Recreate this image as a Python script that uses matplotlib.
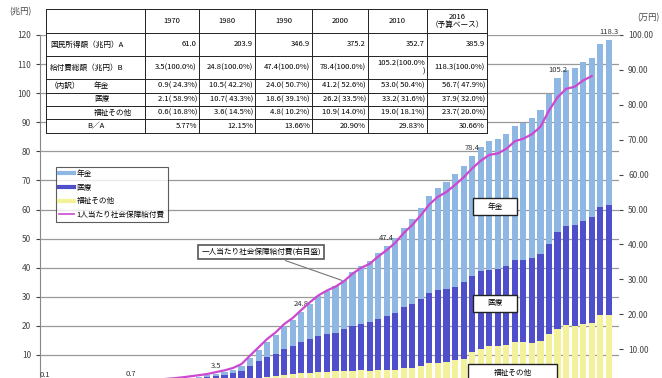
import matplotlib
matplotlib.use("Agg")
import matplotlib.pyplot as plt
from matplotlib.lines import Line2D
from matplotlib.patches import Rectangle
from matplotlib.ticker import FormatStrFormatter

plt.rcParams['font.family'] = ['Noto Sans CJK JP', 'DejaVu Sans']

# fiscal years 1950-2016 (2015, 2016 budget base), trillion yen
years = list(range(1950, 2017))
fukushi = [0.07, 0.08, 0.10, 0.12, 0.13, 0.18, 0.17, 0.18, 0.20, 0.24,
           0.28, 0.30, 0.33, 0.37, 0.42, 0.37, 0.41, 0.45, 0.49, 0.53,
           0.59, 0.76, 0.88, 1.10, 1.44, 2.14, 2.45, 2.81, 3.09, 3.35,
           3.64, 3.94, 4.05, 4.20, 4.30, 4.48, 4.57, 4.68, 4.55, 4.72,
           4.81, 4.96, 5.43, 5.65, 6.16, 7.07, 7.27, 7.40, 8.18, 8.57,
           11.00, 12.19, 13.01, 12.94, 13.38, 14.45, 14.36, 14.22, 14.94, 17.28,
           19.00, 20.30, 20.00, 20.70, 21.00, 23.60, 23.70]
iryo = [0.06, 0.08, 0.10, 0.13, 0.16, 0.19, 0.20, 0.22, 0.26, 0.28,
        0.29, 0.39, 0.50, 0.62, 0.78, 0.91, 1.08, 1.29, 1.49, 1.73,
        2.08, 2.32, 2.78, 3.40, 4.91, 5.74, 6.81, 7.61, 8.82, 9.57,
        10.71, 11.57, 12.41, 12.91, 13.23, 14.29, 15.21, 16.10, 16.71, 17.53,
        18.63, 19.58, 20.91, 21.83, 22.90, 24.09, 25.07, 25.10, 25.27, 26.36,
        26.20, 26.62, 26.25, 26.61, 27.13, 28.11, 28.15, 28.96, 29.66, 30.85,
        33.20, 34.00, 34.60, 35.40, 36.30, 37.20, 37.90]
nenkin = [0.00, 0.00, 0.01, 0.01, 0.02, 0.02, 0.03, 0.03, 0.04, 0.05,
          0.09, 0.10, 0.12, 0.14, 0.17, 0.32, 0.38, 0.46, 0.55, 0.68,
          0.86, 1.03, 1.28, 1.74, 2.67, 3.89, 5.33, 6.49, 7.87, 9.06,
          10.48, 12.12, 13.67, 14.90, 16.04, 16.90, 18.70, 19.89, 21.01, 22.75,
          24.00, 25.60, 27.44, 29.40, 31.42, 33.49, 35.18, 36.94, 38.69, 40.07,
          41.20, 42.59, 44.38, 44.78, 45.52, 46.31, 47.31, 48.26, 49.52, 51.73,
          53.00, 53.80, 54.00, 54.60, 54.80, 56.00, 56.70]

# per capita benefit, 10k yen (1950-2014)
pc_years = list(range(1950, 2015))
per_capita = [0.15, 0.19, 0.24, 0.30, 0.35, 0.43, 0.46, 0.49, 0.54, 0.62,
              0.70, 0.84, 1.00, 1.18, 1.42, 1.63, 1.89, 2.20, 2.52, 2.87,
              3.40, 3.91, 4.59, 5.72, 8.16, 10.52, 12.90, 14.81, 17.18, 18.93,
              21.21, 23.42, 25.38, 26.78, 27.90, 29.47, 31.62, 33.27, 34.43, 36.53,
              38.37, 40.46, 43.28, 45.61, 48.38, 51.49, 53.65, 55.04, 57.04, 59.21,
              61.77, 63.95, 65.64, 66.06, 67.37, 69.56, 70.30, 71.58, 73.70, 78.33,
              82.15, 84.57, 85.17, 86.97, 88.21]

label_years = [1950, 1960, 1970, 1980, 1990, 2000, 2010, 2016]
label_texts = ["0.1", "0.7", "3.5", "24.8", "47.4", "78.4", "105.2", "118.3"]

left_ticks = [10, 20, 30, 40, 50, 60, 70, 80, 90, 100, 110, 120]
right_ticks = [10, 20, 30, 40, 50, 60, 70, 80, 90, 100]

# table
tbl_head = ["1970", "1980", "1990", "2000", "2010", "2016\n（予算ベース）"]
tbl_income = ["61.0", "203.9", "346.9", "375.2", "352.7", "385.9"]
tbl_total = ["3.5(100.0%)", "24.8(100.0%)", "47.4(100.0%)", "78.4(100.0%)",
             "105.2(100.0%\n)", "118.3(100.0%)"]
tbl_nenkin = ["0.9( 24.3%)", "10.5( 42.2%)", "24.0( 50.7%)", "41.2( 52.6%)",
              "53.0( 50.4%)", "56.7( 47.9%)"]
tbl_iryo = ["2.1( 58.9%)", "10.7( 43.3%)", "18.6( 39.1%)", "26.2( 33.5%)",
            "33.2( 31.6%)", "37.9( 32.0%)"]
tbl_fukushi = ["0.6( 16.8%)", "3.6( 14.5%)", "4.8( 10.2%)", "10.9( 14.0%)",
               "19.0( 18.1%)", "23.7( 20.0%)"]
tbl_ratio = ["5.77%", "12.15%", "13.66%", "20.90%", "29.83%", "30.66%"]

c_nenkin = '#8EB8E3'
c_iryo = '#4F4FCB'
c_fukushi = '#F3F19A'
c_line = '#CC48D0'

W, H = 662, 378
fig = plt.figure(figsize=(W / 100, H / 100), dpi=100)
ax = fig.add_axes([40 / W, -6 / H, 579 / W, 349 / H])

bottom2 = [a + b for a, b in zip(fukushi, iryo)]
ax.bar(years, fukushi, width=0.72, color=c_fukushi, zorder=2)
ax.bar(years, iryo, width=0.72, bottom=fukushi, color=c_iryo, zorder=2)
ax.bar(years, nenkin, width=0.72, bottom=bottom2, color=c_nenkin, zorder=2)

totals = {y: a + b for y, a, b in zip(years, bottom2, nenkin)}
for y, t in zip(label_years, label_texts):
    ax.annotate(t, (y, totals[y]), xytext=(0, 3), textcoords='offset points',
                ha='center', va='bottom', fontsize=5.5, color='#333333', zorder=5)

ax.set_xlim(1949.4, 2017.2)
ax.set_ylim(0, 120)
ax.set_yticks(left_ticks)
ax.yaxis.grid(True, color='#9a9a9a', lw=0.9)
ax.set_axisbelow(True)
ax.tick_params(axis='y', labelsize=6, length=3, colors='#444444')
ax.tick_params(axis='x', bottom=False, labelbottom=False)
for s in ['top', 'right', 'bottom']:
    ax.spines[s].set_visible(False)
ax.spines['left'].set_color('#888888')

ax2 = ax.twinx()
ax2.plot(pc_years, per_capita, color=c_line, lw=1.6, zorder=4)
ax2.set_ylim(0, 100)
ax2.set_yticks(right_ticks)
ax2.yaxis.set_major_formatter(FormatStrFormatter('%.2f'))
ax2.tick_params(axis='y', labelsize=6, length=3, colors='#444444')
for s in ['top', 'left', 'bottom', 'right']:
    ax2.spines[s].set_visible(False)

ax2.annotate("一人当たり社会保障給付費(右目盛)", xy=(1985, per_capita[35]),
             xytext=(261, H - 252), textcoords='figure pixels',
             ha='center', va='center', fontsize=5.5,
             bbox=dict(boxstyle='square,pad=0.4', fc='white', ec='#555555', lw=1.2),
             arrowprops=dict(arrowstyle='-', color='#777777', lw=0.8))

fig.text(20 / W, 1 - 12 / H, "(兆円)", fontsize=6, ha='center', va='center', color='#444444')
fig.text(648 / W, 1 - 18 / H, "(万円)", fontsize=6, ha='center', va='center', color='#444444')

# overlay in pixel coordinates for table, legend, boxes
ov = fig.add_axes([0, 0, 1, 1])
ov.set_xlim(0, W)
ov.set_ylim(H, 0)
ov.axis('off')

cols = [46, 145, 199, 255, 312, 368, 427, 487]
rows = [9, 33, 56, 79, 93, 106, 119, 133]
ov.add_patch(Rectangle((cols[0], rows[0]), cols[-1] - cols[0], rows[-1] - rows[0],
                       fc='white', ec='none', zorder=1))
for x in cols:
    ov.plot([x, x], [rows[0], rows[-1]], color='#222222', lw=0.7, zorder=2)
for y in rows:
    ov.plot([cols[0], cols[-1]], [y, y], color='#222222', lw=0.7, zorder=2)

fs = 5.5
row_data = [tbl_income, tbl_total, tbl_nenkin, tbl_iryo, tbl_fukushi, tbl_ratio]
for j, h in enumerate(tbl_head):
    xc = (cols[j + 1] + cols[j + 2]) / 2
    ov.text(xc, (rows[0] + rows[1]) / 2, h, ha='center', va='center',
            fontsize=fs, linespacing=1.1, zorder=3)
for i, vals in enumerate(row_data):
    yc = (rows[i + 1] + rows[i + 2]) / 2
    for j, v in enumerate(vals):
        ov.text(cols[j + 2] - 2, yc, v, ha='right', va='center', fontsize=fs,
                linespacing=1.0, zorder=3)

ov.text(50, (rows[1] + rows[2]) / 2, "国民所得額（兆円）A", ha='left', va='center', fontsize=fs, zorder=3)
ov.text(50, (rows[2] + rows[3]) / 2, "給付費総額（兆円）B", ha='left', va='center', fontsize=fs, zorder=3)
ov.text(50, (rows[3] + rows[4]) / 2, "（内訳）", ha='left', va='center', fontsize=fs, zorder=3)
ov.text(94, (rows[3] + rows[4]) / 2, "年金", ha='left', va='center', fontsize=fs, zorder=3)
ov.text(94, (rows[4] + rows[5]) / 2, "医療", ha='left', va='center', fontsize=fs, zorder=3)
ov.text(94, (rows[5] + rows[6]) / 2, "福祉その他", ha='left', va='center', fontsize=fs, zorder=3)
ov.text(96, (rows[6] + rows[7]) / 2, "B／A", ha='center', va='center', fontsize=fs, zorder=3)

# category boxes
for x0, y0, w, h, t in [(473, 198, 44, 17, "年金"), (473, 295, 44, 17, "医療"),
                        (468, 364, 89, 20, "福祉その他")]:
    ov.add_patch(Rectangle((x0, y0), w, h, fc='white', ec='#222222', lw=1.0, zorder=3))
    ov.text(x0 + w / 2, y0 + 8.5, t, ha='center', va='center', fontsize=5.5, zorder=4)

handles = [Line2D([], [], color=c_nenkin, lw=3),
           Line2D([], [], color=c_iryo, lw=3),
           Line2D([], [], color=c_fukushi, lw=3),
           Line2D([], [], color=c_line, lw=1.2)]
leg = ov.legend(handles, ["年金", "医療", "福祉その他", "1人当たり社会保障給付費"],
                loc='upper left', bbox_to_anchor=(52, 163), bbox_transform=ov.transData,
                fontsize=5.5, frameon=True, fancybox=False, edgecolor='#333333',
                borderpad=0.4, labelspacing=0.75, handlelength=2.0, handletextpad=0.3)
leg.get_frame().set_linewidth(0.8)

fig.savefig("out.png", dpi=100)
